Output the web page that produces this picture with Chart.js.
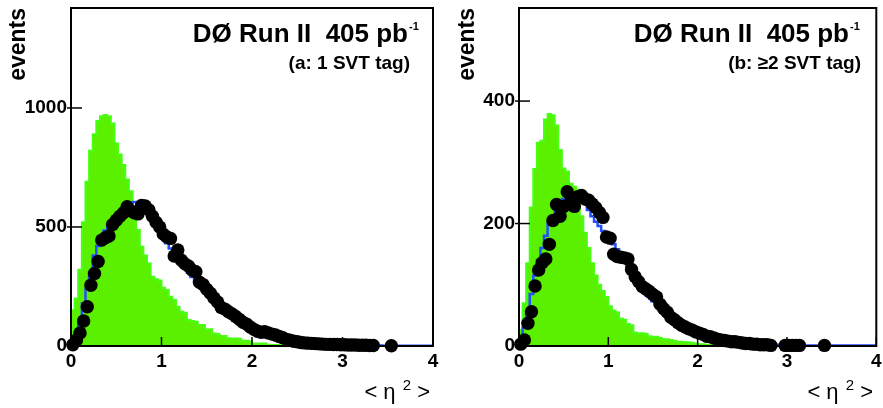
<!DOCTYPE html>
<html>
<head>
<meta charset="utf-8">
<script src="https://cdn.jsdelivr.net/npm/chart.js@4.4.0/dist/chart.umd.min.js"></script>
<style>
  body { margin: 0; background: #fff; }
  #wrap { position: relative; width: 883px; height: 408px; }
  canvas { position: absolute; top: 0; }
</style>
</head>
<body>
<div id="wrap">
  <canvas id="panelA" width="440" height="408" style="left:0"></canvas>
  <canvas id="panelB" width="443" height="408" style="left:440px"></canvas>
</div>
<script>
// <eta^2> histograms, 100 bins of 0.04 from 0 to 4
var BIN_WIDTH = 0.04;
var xTicks = [0, 1, 2, 3, 4];
var yTicksA = [0, 500, 1000];
var yTicksB = [0, 200, 400];

// (a) 1 SVT tag
var bkgA = [40,150,200,320,520,690,820,890,945,965,
  970,965,935,851,805,760,700,650,571,487,
  417,380,347,291,280,275,245,235,207,193,
  165,144,140,109,105,102,88,88,70,70,
  53,50,42,42,33,32,32,30,22,22,
  20,11,11,11,10,5,4,4,4,3,
  2,2,1,1,1,1,0,0,0,0,
  0,0,0,0,0,0,0,0,0,0,
  0,0,0,0,0,0,0,0,0,0,
  0,0,0,0,0,0,0,0,0,0];
var mcA = [8,30,60,110,180,240,310,380,420,455,
  485,510,530,550,565,578,590,600,605,600,
  590,575,555,530,505,480,455,432,410,388,
  366,346,326,308,290,272,254,237,220,204,
  189,174,160,147,135,123,112,102,93,84,
  76,69,63,58,53,48,43,38,34,30,
  27,24,21,19,17,15,13,12,11,10,
  9,8,7,6,6,5,5,4,4,3,
  3,3,2,2,2,2,2,1,1,1,
  1,1,1,1,1,1,1,1,1,1];
var dataA = [5,25,55,105,165,255,305,355,445,455,
  462,510,528,545,560,585,568,560,555,590,
  588,572,545,520,500,470,458,452,378,403,
  360,345,335,318,312,268,258,238,222,202,
  185,162,155,144,135,124,112,100,92,80,
  70,62,58,60,55,50,46,40,35,28,
  24,20,18,15,13,12,11,10,9,8,
  7,7,6,6,5,5,4,4,4,3,
  3,3,2,2,null,null,null,null,1,null,
  null,null,null,null,null,null,null,null,null,null];

// (b) >=2 SVT tag
var bkgB = [10,26,70,135,226,289,332,335,370,379,
  377,360,320,290,285,265,260,255,212,185,
  160,135,115,100,90,80,65,58,55,45,
  43,36,34,22,21,21,20,16,15,15,
  13,11,11,10,8,7,7,6,6,5,
  4,3,3,2,2,1,1,1,0,0,
  0,0,0,0,0,0,0,0,0,0,
  0,0,0,0,0,0,0,0,0,0,
  0,0,0,0,0,0,0,0,0,0,
  0,0,0,0,0,0,0,0,0,0];
var mcB = [4,12,30,55,85,115,140,160,180,200,
  212,222,232,240,245,248,248,246,242,236,
  222,212,203,196,188,180,174,166,158,150,
  140,130,120,111,102,94,87,80,73,67,
  61,56,51,47,43,39,35,32,29,26,
  24,22,20,18,16,14,13,12,11,10,
  9,8,7,6,5,5,4,4,3,3,
  3,2,2,2,2,2,2,2,2,1,
  1,1,1,1,1,1,1,1,1,1,
  1,1,1,1,1,1,1,1,1,1];
var dataB = [3,10,37,56,98,124,136,142,166,205,
  231,212,228,252,236,228,244,246,240,238,
  232,226,218,210,178,176,150,146,145,144,
  142,125,113,105,97,93,89,84,80,68,
  61,55,47,43,38,34,31,28,26,23,
  21,19,16,15,13,11,10,9,8,7,
  7,6,5,4,4,3,3,2,2,2,
  1,null,null,null,1,1,1,1,1,null,
  null,null,null,null,null,1,null,null,null,null,
  null,null,null,null,null,null,null,null,null,null];

var FONT = 'Liberation Sans, Arial, Helvetica, sans-serif';

// step outline: one point per lower bin edge, plus the closing edge
function histPoints(values) {
  var pts = values.map(function(v, i) { return {x: i * BIN_WIDTH, y: v}; });
  pts.push({x: values.length * BIN_WIDTH, y: values[values.length - 1]});
  return pts;
}
function markerPoints(values) {
  return values.map(function(v, i) { return {x: (i + 0.5) * BIN_WIDTH, y: v}; });
}

// frame, inner ticks, the DØ labels and the x title
var decor = {
  id: 'decor',
  afterDatasetsDraw: function(chart, args, o) {
    var c = chart.ctx, a = chart.chartArea;
    var sx = chart.scales.x, sy = chart.scales.y;
    c.save();
    c.strokeStyle = '#000';
    c.lineWidth = 1.5;
    sx.ticks.forEach(function(t) {
      var px = sx.getPixelForValue(t.value);
      c.beginPath(); c.moveTo(px, a.bottom); c.lineTo(px, a.bottom - 9); c.stroke();
    });
    sy.ticks.forEach(function(t) {
      var py = sy.getPixelForValue(t.value);
      c.beginPath(); c.moveTo(a.left - 4, py); c.lineTo(a.left + 11, py); c.stroke();
    });
    c.lineWidth = 2;
    c.strokeRect(a.left, a.top, a.right - a.left, a.bottom - a.top);

    c.fillStyle = '#000';
    c.textAlign = 'right';
    c.textBaseline = 'alphabetic';
    c.font = 'bold 26px ' + FONT;
    c.fillText('DØ Run II  405 pb', o.titleX, 42);
    c.textAlign = 'left';
    c.font = 'bold 11px ' + FONT;
    c.fillText('-1', o.titleX + 1, 30);
    c.textAlign = 'right';
    c.font = 'bold 19px ' + FONT;
    c.fillText(o.sub, o.subX, 69);

    // x title "< η ² >"
    c.font = '22px ' + FONT;
    c.fillText('>', o.xTitleX, 399);
    var w = c.measureText(' >').width;
    c.font = '15px ' + FONT;
    c.fillText('2', o.xTitleX - w, 390);
    w += c.measureText('2').width;
    c.font = '22px ' + FONT;
    c.fillText('< η ', o.xTitleX - w - 1, 399);
    c.restore();
  }
};

function makePanel(id, cfg) {
  var ctx = document.getElementById(id).getContext('2d');
  return new Chart(ctx, {
    type: 'line',
    data: {
      datasets: [
        { type: 'scatter', data: markerPoints(cfg.data), showLine: false, clip: false,
          pointRadius: 6.7, pointBorderWidth: 0, pointBackgroundColor: '#000', order: 0 },
        { data: histPoints(cfg.mc), stepped: 'after', borderColor: '#2350ff', borderWidth: 2.5,
          pointRadius: 0, fill: false, order: 1 },
        { data: histPoints(cfg.bkg), stepped: 'after', borderColor: '#48ff14', backgroundColor: '#5af000',
          borderWidth: 2, pointRadius: 0, fill: 'origin', order: 2 }
      ]
    },
    options: {
      responsive: false,
      animation: false,
      devicePixelRatio: 1,
      layout: { padding: { top: 8, right: cfg.padRight, left: 0, bottom: 0 } },
      plugins: {
        legend: { display: false },
        tooltip: { enabled: false },
        decor: { titleX: cfg.titleX, subX: cfg.subX, sub: cfg.sub, xTitleX: cfg.xTitleX }
      },
      scales: {
        x: {
          type: 'linear', min: 0, max: 4,
          grid: { display: false, drawTicks: false },
          border: { display: false },
          afterBuildTicks: function(s) { s.ticks = xTicks.map(function(v) { return {value: v}; }); },
          afterFit: function(s) { s.height = 62; s.paddingLeft = 0; s.paddingRight = 0; },
          ticks: { color: '#000', padding: 4, maxRotation: 0, autoSkip: false,
                   font: { family: FONT, weight: 'bold', size: 19 },
                   callback: function(v) { return String(v); } }
        },
        y: {
          min: 0, max: cfg.ymax,
          grid: { display: false, drawTicks: false },
          border: { display: false },
          afterBuildTicks: function(s) { s.ticks = cfg.yTicks.map(function(v) { return {value: v}; }); },
          afterFit: function(s) { s.width = cfg.axisW; s.paddingTop = 0; s.paddingBottom = 0; },
          ticks: { color: '#000', padding: 4,
                   font: { family: FONT, weight: 'bold', size: 19 },
                   callback: function(v) { return String(v); } },
          title: { display: true, text: 'events', align: 'end', color: '#000',
                   font: { family: FONT, weight: 'bold', size: 23 }, padding: { top: cfg.titlePad, bottom: 0 } }
        }
      }
    },
    plugins: [decor]
  });
}

makePanel('panelA', {
  bkg: bkgA, mc: mcA, data: dataA, yTicks: yTicksA, ymax: 1420,
  axisW: 71, padRight: 7, titlePad: 5,
  titleX: 408, subX: 410, sub: '(a: 1 SVT tag)', xTitleX: 430
});
makePanel('panelB', {
  bkg: bkgB, mc: mcB, data: dataB, yTicks: yTicksB, ymax: 552,
  axisW: 79, padRight: 1, titlePad: 14,
  titleX: 409, subX: 421, sub: '(b: ≥2 SVT tag)', xTitleX: 433
});
</script>
</body>
</html>
